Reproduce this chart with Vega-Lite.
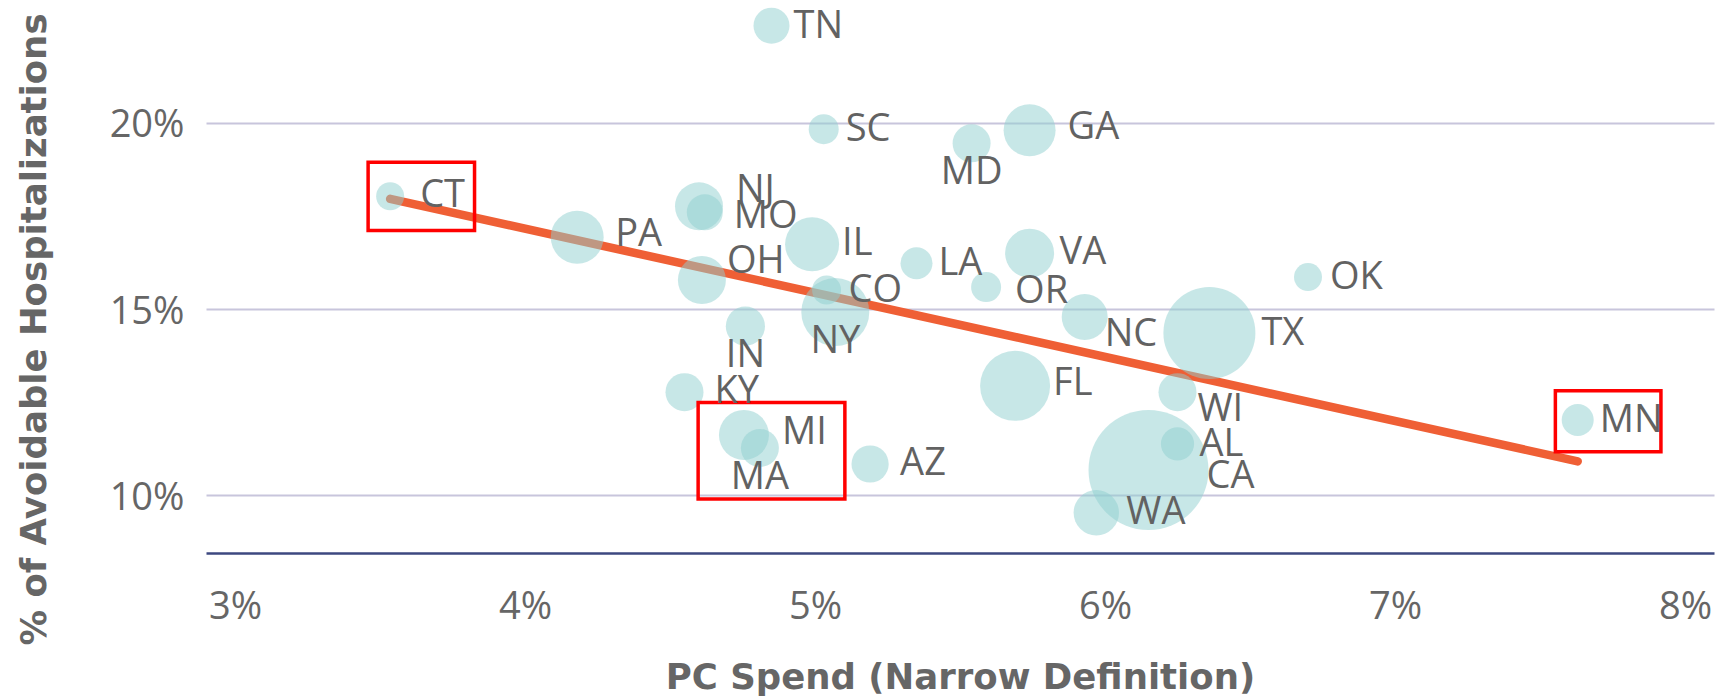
{
  "$schema": "https://vega.github.io/schema/vega-lite/v6.json",
  "description": "PC spend vs avoidable hospitalizations by state, bubble size by state weight, with trend line",
  "width": 1508,
  "height": 553,
  "autosize": {"type": "none"},
  "padding": {"left": 206, "top": 0, "right": 19, "bottom": 145},
  "background": "white",
  "config": {
    "view": {"stroke": null},
    "text": {"font": "Open Sans", "fontSize": 38, "color": "#626262", "align": "left", "baseline": "middle"}
  },
  "datasets": {
    "states": [
      {"state": "TN", "pc": 4.85, "ah": 22.61, "value": 3.24},
      {"state": "SC", "pc": 5.03, "ah": 19.83, "value": 2.25},
      {"state": "CT", "pc": 3.535, "ah": 18.03, "value": 1.96},
      {"state": "PA", "pc": 4.18, "ah": 16.93, "value": 7.0},
      {"state": "NJ", "pc": 4.6, "ah": 17.76, "value": 5.76},
      {"state": "MO", "pc": 4.62, "ah": 17.6, "value": 3.24},
      {"state": "OH", "pc": 4.61, "ah": 15.78, "value": 5.76},
      {"state": "IL", "pc": 4.99, "ah": 16.74, "value": 7.29},
      {"state": "CO", "pc": 5.04, "ah": 15.51, "value": 2.1},
      {"state": "LA", "pc": 5.35, "ah": 16.23, "value": 2.56},
      {"state": "MD", "pc": 5.54, "ah": 19.45, "value": 3.61},
      {"state": "GA", "pc": 5.74, "ah": 19.8, "value": 6.76},
      {"state": "VA", "pc": 5.74, "ah": 16.5, "value": 6.0},
      {"state": "OR", "pc": 5.59, "ah": 15.59, "value": 2.25},
      {"state": "OK", "pc": 6.7, "ah": 15.86, "value": 1.96},
      {"state": "NY", "pc": 5.07, "ah": 14.92, "value": 11.56},
      {"state": "IN", "pc": 4.76, "ah": 14.54, "value": 3.84},
      {"state": "KY", "pc": 4.55, "ah": 12.77, "value": 3.61},
      {"state": "MI", "pc": 4.755, "ah": 11.62, "value": 6.25},
      {"state": "MA", "pc": 4.81, "ah": 11.27, "value": 3.61},
      {"state": "AZ", "pc": 5.19, "ah": 10.84, "value": 3.46},
      {"state": "FL", "pc": 5.69, "ah": 12.94, "value": 12.25},
      {"state": "NC", "pc": 5.93, "ah": 14.79, "value": 5.29},
      {"state": "TX", "pc": 6.36, "ah": 14.36, "value": 21.16},
      {"state": "WI", "pc": 6.25, "ah": 12.77, "value": 3.61},
      {"state": "AL", "pc": 6.25, "ah": 11.38, "value": 2.76},
      {"state": "CA", "pc": 6.15, "ah": 10.68, "value": 36.0},
      {"state": "WA", "pc": 5.97, "ah": 9.53, "value": 5.15},
      {"state": "MN", "pc": 7.63, "ah": 12.02, "value": 2.56}
    ],
    "trend": [
      {"pc": 3.535, "ah": 17.96},
      {"pc": 7.63, "ah": 10.91}
    ],
    "boxes": [
      {"name": "CT", "pc": 3.459, "pc2": 3.826, "ah": 18.94, "ah2": 17.11},
      {"name": "MI/MA", "pc": 4.597, "pc2": 5.103, "ah": 12.49, "ah2": 9.9},
      {"name": "MN", "pc": 7.553, "pc2": 7.917, "ah": 12.81, "ah2": 11.17}
    ]
  },
  "data": {"name": "states"},
  "encoding": {
    "x": {
      "field": "pc",
      "type": "quantitative",
      "scale": {"domain": [2.9, 8.1], "nice": false, "zero": false},
      "axis": {
        "values": [3, 4, 5, 6, 7, 8],
        "labelExpr": "datum.value + '%'",
        "title": "PC Spend (Narrow Definition)",
        "grid": false,
        "ticks": false,
        "tickSize": 0,
        "domain": true,
        "domainColor": "#3d4880",
        "domainWidth": 2.5,
        "labelFont": "Open Sans",
        "labelFontSize": 38,
        "labelColor": "#666666",
        "labelPadding": 65,
        "labelBaseline": "alphabetic",
        "labelFlush": false,
        "labelOverlap": false,
        "titleFont": "DejaVu Sans",
        "titleFontSize": 35.5,
        "titleFontWeight": "bold",
        "titleColor": "#666666",
        "titleY": 135,
        "titleBaseline": "alphabetic"
      }
    },
    "y": {
      "field": "ah",
      "type": "quantitative",
      "scale": {"domain": [8.45, 23.3], "nice": false, "zero": false},
      "axis": {
        "values": [10, 15, 20],
        "labelExpr": "datum.value + '%'",
        "title": "% of Avoidable Hospitalizations",
        "grid": true,
        "gridColor": "#c8c5dc",
        "gridWidth": 2,
        "ticks": false,
        "tickSize": 0,
        "domain": false,
        "labelFont": "Open Sans",
        "labelFontSize": 38,
        "labelColor": "#666666",
        "labelPadding": 22,
        "labelOffset": 3,
        "titleFont": "DejaVu Sans",
        "titleFontSize": 35.5,
        "titleFontWeight": "bold",
        "titleColor": "#666666",
        "titleAngle": 270,
        "titleAlign": "center",
        "titleBaseline": "alphabetic",
        "titleX": -161,
        "titleY": 329
      }
    }
  },
  "layer": [
    {
      "data": {"name": "trend"},
      "mark": {"type": "line", "color": "#ef5f35", "strokeWidth": 8.5, "strokeCap": "round"},
      "encoding": {}
    },
    {
      "mark": {"type": "circle", "color": "#8fcfcf", "opacity": 0.5},
      "encoding": {
        "size": {
          "field": "value",
          "type": "quantitative",
          "scale": {"domain": [0, 36], "range": [0, 14400]},
          "legend": null
        }
      }
    },
    {
      "data": {"name": "boxes"},
      "mark": {"type": "rect", "filled": false, "color": "#ff0000", "strokeWidth": 3.5},
      "encoding": {
        "x2": {"field": "pc2"},
        "y2": {"field": "ah2"}
      }
    },
    {
      "transform": [{"filter": {"field": "state", "oneOf": ["TN", "SC", "LA", "OK", "AL", "MN", "CO"]}}],
      "mark": {"type": "text", "dx": 22, "dy": 1},
      "encoding": {"text": {"field": "state"}}
    },
    {
      "transform": [{"filter": {"field": "state", "oneOf": ["CT", "VA", "IL", "KY", "AZ", "WA"]}}],
      "mark": {"type": "text", "dx": 30, "dy": 0},
      "encoding": {"text": {"field": "state"}}
    },
    {
      "transform": [{"filter": {"field": "state", "oneOf": ["PA", "MI", "FL", "GA"]}}],
      "mark": {"type": "text", "dx": 38, "dy": -2},
      "encoding": {"text": {"field": "state"}}
    },
    {
      "transform": [{"filter": {"field": "state", "oneOf": ["TX"]}}],
      "mark": {"type": "text", "dx": 52, "dy": 1},
      "encoding": {"text": {"field": "state"}}
    },
    {
      "transform": [{"filter": {"field": "state", "oneOf": ["MD", "NY", "IN", "MA"]}}],
      "mark": {"type": "text", "align": "center", "dx": 0, "dy": 30},
      "encoding": {"text": {"field": "state"}}
    },
    {
      "transform": [{"filter": {"field": "state", "oneOf": ["NJ"]}}],
      "mark": {"type": "text", "dx": 37, "dy": -15},
      "encoding": {"text": {"field": "state"}}
    },
    {
      "transform": [{"filter": {"field": "state", "oneOf": ["OH"]}}],
      "mark": {"type": "text", "dx": 25, "dy": -18},
      "encoding": {"text": {"field": "state"}}
    },
    {
      "transform": [{"filter": {"field": "state", "oneOf": ["MO", "OR"]}}],
      "mark": {"type": "text", "dx": 29, "dy": 5},
      "encoding": {"text": {"field": "state"}}
    },
    {
      "transform": [{"filter": {"field": "state", "oneOf": ["NC", "WI"]}}],
      "mark": {"type": "text", "dx": 20, "dy": 18},
      "encoding": {"text": {"field": "state"}}
    },
    {
      "transform": [{"filter": {"field": "state", "oneOf": ["CA"]}}],
      "mark": {"type": "text", "dx": 58, "dy": 7},
      "encoding": {"text": {"field": "state"}}
    }
  ]
}
